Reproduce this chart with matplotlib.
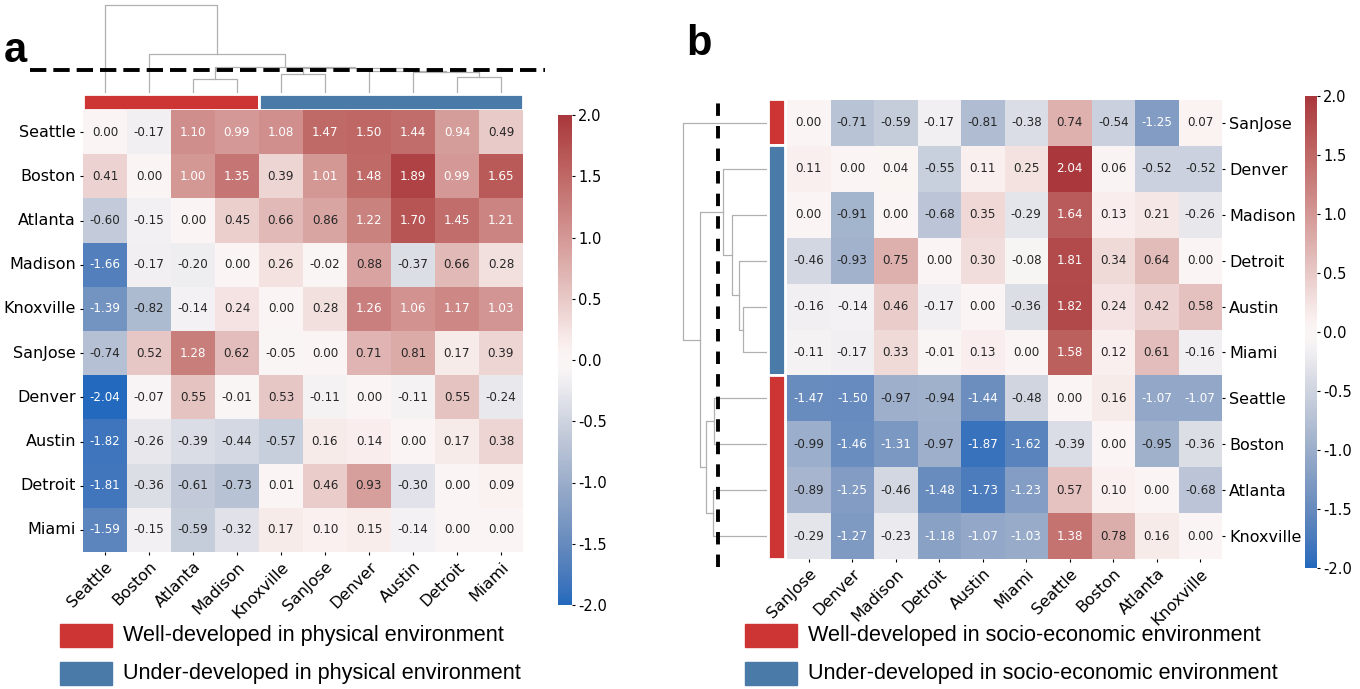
import numpy as np
import matplotlib
matplotlib.use("Agg")
import matplotlib.pyplot as plt
from matplotlib.patches import Rectangle
import seaborn as sns

# ---- panel a: physical environment ----
cities_a = ["Seattle", "Boston", "Atlanta", "Madison", "Knoxville",
            "SanJose", "Denver", "Austin", "Detroit", "Miami"]
vals_a = np.array([
    [0.00, -0.17, 1.10, 0.99, 1.08, 1.47, 1.50, 1.44, 0.94, 0.49],
    [0.41, 0.00, 1.00, 1.35, 0.39, 1.01, 1.48, 1.89, 0.99, 1.65],
    [-0.60, -0.15, 0.00, 0.45, 0.66, 0.86, 1.22, 1.70, 1.45, 1.21],
    [-1.66, -0.17, -0.20, 0.00, 0.26, -0.02, 0.88, -0.37, 0.66, 0.28],
    [-1.39, -0.82, -0.14, 0.24, 0.00, 0.28, 1.26, 1.06, 1.17, 1.03],
    [-0.74, 0.52, 1.28, 0.62, -0.05, 0.00, 0.71, 0.81, 0.17, 0.39],
    [-2.04, -0.07, 0.55, -0.01, 0.53, -0.11, 0.00, -0.11, 0.55, -0.24],
    [-1.82, -0.26, -0.39, -0.44, -0.57, 0.16, 0.14, 0.00, 0.17, 0.38],
    [-1.81, -0.36, -0.61, -0.73, 0.01, 0.46, 0.93, -0.30, 0.00, 0.09],
    [-1.59, -0.15, -0.59, -0.32, 0.17, 0.10, 0.15, -0.14, 0.00, 0.00],
])
groups_a = ["well"] * 4 + ["under"] * 6
# scipy-style linkage: (left id, right id, height), new ids start at n
link_a = [(2, 3, 14.3), (8, 9, 16.0), (4, 5, 19.3), (7, 11, 21.0),
          (6, 13, 22.0), (12, 14, 25.0), (10, 15, 26.0), (1, 16, 38.7),
          (0, 17, 87.7)]
cut_a = 23.0

# ---- panel b: socio-economic environment ----
cities_b = ["SanJose", "Denver", "Madison", "Detroit", "Austin",
            "Miami", "Seattle", "Boston", "Atlanta", "Knoxville"]
vals_b = np.array([
    [0.00, -0.71, -0.59, -0.17, -0.81, -0.38, 0.74, -0.54, -1.25, 0.07],
    [0.11, 0.00, 0.04, -0.55, 0.11, 0.25, 2.04, 0.06, -0.52, -0.52],
    [0.00, -0.91, 0.00, -0.68, 0.35, -0.29, 1.64, 0.13, 0.21, -0.26],
    [-0.46, -0.93, 0.75, 0.00, 0.30, -0.08, 1.81, 0.34, 0.64, 0.00],
    [-0.16, -0.14, 0.46, -0.17, 0.00, -0.36, 1.82, 0.24, 0.42, 0.58],
    [-0.11, -0.17, 0.33, -0.01, 0.13, 0.00, 1.58, 0.12, 0.61, -0.16],
    [-1.47, -1.50, -0.97, -0.94, -1.44, -0.48, 0.00, 0.16, -1.07, -1.07],
    [-0.99, -1.46, -1.31, -0.97, -1.87, -1.62, -0.39, 0.00, -0.95, -0.36],
    [-0.89, -1.25, -0.46, -1.48, -1.73, -1.23, 0.57, 0.10, 0.00, -0.68],
    [-0.29, -1.27, -0.23, -1.18, -1.07, -1.03, 1.38, 0.78, 0.16, 0.00],
])
groups_b = ["well"] + ["under"] * 5 + ["well"] * 4
link_b = [(4, 5, 24.0), (3, 10, 28.0), (2, 11, 35.0), (1, 12, 44.0),
          (6, 7, 53.0), (8, 9, 54.0), (14, 15, 61.0), (13, 16, 67.0),
          (0, 17, 84.0)]
cut_b = 49.0

legend_a = ["Well-developed in physical environment",
            "Under-developed in physical environment"]
legend_b = ["Well-developed in socio-economic environment",
            "Under-developed in socio-economic environment"]
group_colors = {"well": "#cd3434", "under": "#4a7aa8"}

W, H = 1360, 689
fig = plt.figure(figsize=(W / 100, H / 100), dpi=100)


def px_axes(x0, y0, x1, y1):
    return fig.add_axes([x0 / W, 1 - y1 / H, (x1 - x0) / W, (y1 - y0) / H])


def draw_dendro(ax, links, n, orient):
    pos = {i: i + 0.5 for i in range(n)}
    hgt = {i: 0.0 for i in range(n)}
    for k, (a, b, h) in enumerate(links):
        xs = [pos[a], pos[a], pos[b], pos[b]]
        ys = [hgt[a], h, h, hgt[b]]
        if orient == "top":
            ax.plot(xs, ys, color="#b0b0b0", lw=0.9)
        else:
            ax.plot(ys, xs, color="#b0b0b0", lw=0.9)
        pos[n + k] = (pos[a] + pos[b]) / 2
        hgt[n + k] = h
    ax.axis("off")


def draw_strip(ax, groups, orient):
    start = 0
    for i in range(1, len(groups) + 1):
        if i == len(groups) or groups[i] != groups[start]:
            c = group_colors[groups[start]]
            if orient == "top":
                ax.bar(start, 1, width=i - start, align="edge", color=c,
                       edgecolor="white", linewidth=2)
            else:
                ax.barh(start, 1, height=i - start, align="edge", color=c,
                        edgecolor="white", linewidth=2)
            start = i
    n = len(groups)
    if orient == "top":
        ax.set_xlim(0, n)
        ax.set_ylim(0, 1)
    else:
        ax.set_ylim(n, 0)
        ax.set_xlim(0, 1)
    ax.axis("off")


def draw_heat(ax, cax, vals, cities):
    sns.heatmap(vals, ax=ax, cbar_ax=cax, cmap="vlag", vmin=-2, vmax=2,
                center=0, annot=True, fmt=".2f", annot_kws={"size": 8.6},
                xticklabels=cities, yticklabels=cities)
    ax.set_xticklabels(cities, rotation=45, ha="right",
                       rotation_mode="anchor", fontsize=11.5)
    ax.set_yticklabels(cities, rotation=0, fontsize=11.5)
    ax.tick_params(length=2.5, pad=2.5)
    cax.set_yticks(np.arange(-2, 2.01, 0.5))
    cax.set_yticklabels([f"{t:.1f}" for t in np.arange(-2, 2.01, 0.5)],
                        fontsize=10.5)
    cax.tick_params(length=2.5, pad=2)


# panel a
dend_a = px_axes(83, 3, 523, 93)
draw_dendro(dend_a, link_a, len(cities_a), "top")
dend_a.set_xlim(0, len(cities_a))
dend_a.set_ylim(0, 90)
dend_a.axhline(cut_a, xmin=(30 - 83) / 440, xmax=(545 - 83) / 440,
               clip_on=False, color="black", lw=2.8, dashes=(4.2, 1.8))
strip_a = px_axes(83, 94, 523, 110)
draw_strip(strip_a, groups_a, "top")
heat_a = px_axes(83, 110, 523, 552)
cbar_a = px_axes(558, 115, 572, 605)
draw_heat(heat_a, cbar_a, vals_a, cities_a)

# panel b
dend_b = px_axes(680, 100, 767, 559)
draw_dendro(dend_b, link_b, len(cities_b), "left")
dend_b.set_ylim(len(cities_b), 0)
dend_b.set_xlim(87, 0)
dend_b.axvline(cut_b, ymin=(559 - 567) / 459, ymax=1.0, clip_on=False,
               color="black", lw=2.8, dashes=(3.2, 2.6))
strip_b = px_axes(768, 99, 785, 559)
draw_strip(strip_b, groups_b, "left")
heat_b = px_axes(787, 100, 1222, 559)
cbar_b = px_axes(1305, 96, 1317, 568)
draw_heat(heat_b, cbar_b, vals_b, cities_b)
heat_b.yaxis.tick_right()
heat_b.tick_params(axis="y", labelright=True, labelleft=False)

# panel letters
fig.text(4 / W, 1 - 62 / H, "a", fontsize=30, fontweight="bold",
         family="Liberation Sans")
fig.text(686 / W, 1 - 55 / H, "b", fontsize=30, fontweight="bold",
         family="Liberation Sans")

# legends
for (x0, labels) in [(60, legend_a), (745, legend_b)]:
    for j, (g, lab) in enumerate(zip(["well", "under"], labels)):
        yc = 636 + 38 * j
        fig.patches.append(Rectangle((x0 / W, 1 - (yc + 11) / H), 52 / W, 23 / H,
                                     transform=fig.transFigure,
                                     color=group_colors[g]))
        fig.text((x0 + 63) / W, 1 - yc / H, lab, fontsize=15.6, va="center",
                 family="Liberation Sans")

fig.savefig("out.png", dpi=100)
